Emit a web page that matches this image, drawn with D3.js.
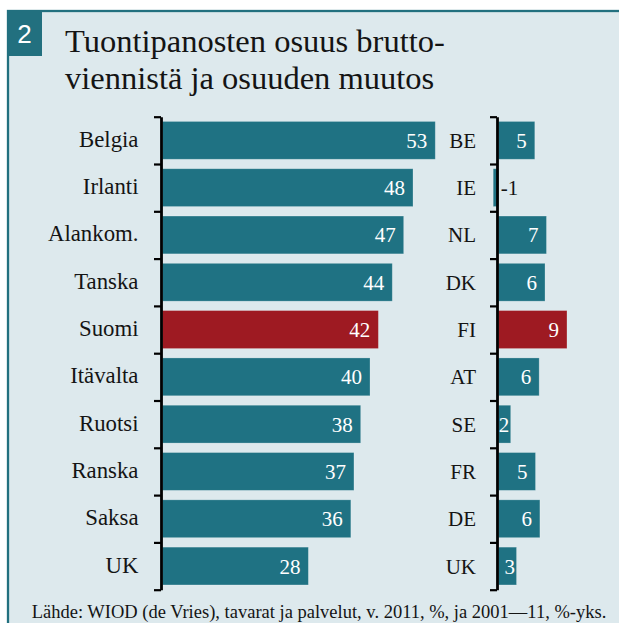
<!DOCTYPE html>
<html>
<head>
<meta charset="utf-8">
<script src="https://cdn.jsdelivr.net/npm/d3@7/dist/d3.min.js"></script>
<style>
  html, body { margin: 0; padding: 0; background: #ffffff; }
  svg { display: block; }
</style>
</head>
<body>
<div id="chart"></div>
<script>
// ---- data ----
const countries = ["Belgia", "Irlanti", "Alankom.", "Tanska", "Suomi", "Itävalta", "Ruotsi", "Ranska", "Saksa", "UK"];
const codes = ["BE", "IE", "NL", "DK", "FI", "AT", "SE", "FR", "DE", "UK"];
// share of imported inputs in gross exports, 2011, %
const share2011 = [52.7, 48.4, 46.6, 44.4, 41.7, 40.1, 38.3, 37.0, 36.4, 28.2];
// change in share 2001-11, percentage points
const change = [5.0, -0.7, 6.6, 6.4, 9.4, 5.6, 1.7, 5.1, 5.7, 2.5];
const highlight = "FI";
const titleLines = ["Tuontipanosten osuus brutto-", "viennistä ja osuuden muutos"];
const chartNumber = "2";
const source = "Lähde: WIOD (de Vries), tavarat ja palvelut, v. 2011, %, ja 2001—11, %-yks.";

// ---- styles ----
const W = 619, H = 623;
const bg = "#dde9ed";
const teal = "#1f7283";
const red = "#9e1a22";
const ink = "#141414";
const serif = "'Liberation Serif', 'Times New Roman', serif";

const svg = d3.select("#chart").append("svg").attr("width", W).attr("height", H);

// frame
svg.append("rect").attr("x", 8).attr("y", 11).attr("width", W + 20).attr("height", H + 20)
  .attr("fill", bg).attr("stroke", "#22707f").attr("stroke-width", 2.3);
svg.append("rect").attr("x", 7).attr("y", 10).attr("width", 35).attr("height", 46).attr("fill", "#22707f");
svg.append("text").attr("x", 24.5).attr("y", 43).attr("text-anchor", "middle")
  .attr("font-family", "'Liberation Sans', Arial, sans-serif").attr("font-size", 26)
  .attr("fill", "#ffffff").text(chartNumber);

// title
svg.append("g").selectAll("text").data(titleLines).join("text")
  .attr("x", 65).attr("y", (d, i) => 52 + i * 37)
  .attr("font-family", serif).attr("font-size", 32.5).attr("fill", ink)
  .text(d => d);

// ---- scales ----
const y = d3.scaleBand().domain(d3.range(countries.length)).range([116.7, 589.7])
  .paddingInner(0.2).paddingOuter(0.1);
const yTick = d3.scaleLinear().domain([0, countries.length]).range([116.7, 589.7]);
const xL = d3.scaleLinear().domain([0, 60]).range([162.3, 162.3 + 60 * 5.18]);
const xR = d3.scaleLinear().domain([-1, 10]).range([498.3 - 7.3, 498.3 + 73]);

const fmt = v => String(Math.round(v));

// ---- left panel ----
const gL = svg.append("g");
gL.selectAll("rect").data(share2011).join("rect")
  .attr("x", xL(0)).attr("y", (d, i) => y(i))
  .attr("width", d => xL(d) - xL(0)).attr("height", y.bandwidth())
  .attr("fill", (d, i) => codes[i] === highlight ? red : teal)
  .attr("stroke", (d, i) => codes[i] === highlight ? "rgba(255,255,255,0.15)" : "rgba(255,255,255,0.3)")
  .attr("stroke-width", 0.8);
gL.selectAll("text.val").data(share2011).join("text").attr("class", "val")
  .attr("x", d => xL(d) - 8).attr("y", (d, i) => y(i) + y.bandwidth() / 2 + 7.5)
  .attr("text-anchor", "end").attr("font-family", serif).attr("font-size", 21)
  .attr("fill", "#ffffff").text(fmt);
gL.selectAll("text.cat").data(countries).join("text").attr("class", "cat")
  .attr("x", 138.5).attr("y", (d, i) => y(i) + y.bandwidth() / 2 + 6.5)
  .attr("text-anchor", "end").attr("font-family", serif).attr("font-size", 22.8)
  .attr("fill", ink).text(d => d);

// ---- right panel ----
const gR = svg.append("g");
gR.selectAll("rect").data(change).join("rect")
  .attr("x", d => Math.min(xR(d), xR(0))).attr("y", (d, i) => y(i))
  .attr("width", d => Math.abs(xR(d) - xR(0))).attr("height", y.bandwidth())
  .attr("fill", (d, i) => codes[i] === highlight ? red : teal)
  .attr("stroke", (d, i) => codes[i] === highlight ? "rgba(255,255,255,0.15)" : "rgba(255,255,255,0.3)")
  .attr("stroke-width", 0.8);
gR.selectAll("text.val").data(change).join("text").attr("class", "val")
  .attr("x", d => d < 0 ? xR(0) + 2.5 : (xR(d) - xR(0) < 25 ? xR(d) - 1.5 : xR(d) - 8))
  .attr("y", (d, i) => y(i) + y.bandwidth() / 2 + 7.5)
  .attr("text-anchor", d => d < 0 ? "start" : "end")
  .attr("font-family", serif).attr("font-size", 21)
  .attr("fill", d => d < 0 ? ink : "#ffffff").text(fmt);
gR.selectAll("text.cat").data(codes).join("text").attr("class", "cat")
  .attr("x", 476).attr("y", (d, i) => y(i) + y.bandwidth() / 2 + 7.5)
  .attr("text-anchor", "end").attr("font-family", serif).attr("font-size", 21)
  .attr("fill", ink).text(d => d);

// ---- axes (bracket style, ticks at band boundaries) ----
function drawAxis(xPos) {
  const ax = d3.axisLeft(yTick).tickValues(d3.range(countries.length + 1))
    .tickSize(7).tickSizeOuter(0).tickFormat("");
  const g = svg.append("g").attr("transform", `translate(${xPos},0)`).call(ax);
  g.select(".domain").attr("stroke", "#000").attr("stroke-width", 2.8);
  g.selectAll(".tick line").attr("stroke", "#000").attr("stroke-width", 2.2);
}
drawAxis(161);
drawAxis(497);

// source
svg.append("text").attr("x", 319).attr("y", 618).attr("text-anchor", "middle")
  .attr("font-family", serif).attr("font-size", 18.5).attr("fill", ink).text(source);
</script>
</body>
</html>
